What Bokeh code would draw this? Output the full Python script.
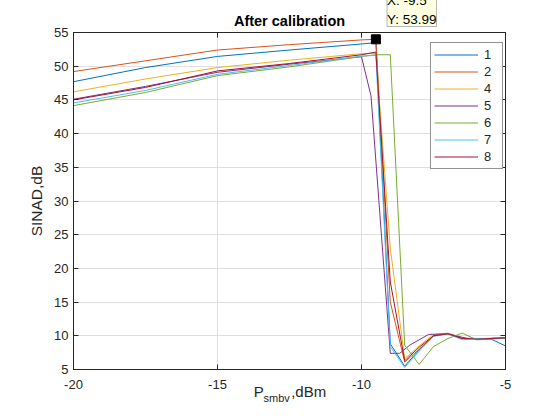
from bokeh.plotting import figure
from bokeh.models import (Range1d, LinearAxis, FixedTicker, Legend, LegendItem,
                          CustomJSTickFormatter, Title)
from bokeh.embed import file_html
from bokeh.resources import INLINE

# ---------------- data ----------------
x_common = [-20, -17.5, -15, -12.5, -10, -9.5, -9, -8.5, -8, -7.5, -7, -6.5, -6, -5.5, -5]
x_s5 = [-20, -17.5, -15, -12.5, -10, -9.67, -9.0, -8.67, -8.33, -7.67, -7.0, -6.33, -5.67, -5.0]

y_s1 = [47.7, 49.8, 51.45, 52.4, 53.3, 53.5, 8.8, 5.5, 7.9, 10.0, 10.3, 9.6, 9.6, 9.5, 8.5]
y_s2 = [49.2, 50.8, 52.4, 53.2, 53.9, 53.99, 15.0, 6.1, 8.0, 10.0, 10.3, 9.6, 9.6, 9.6, 9.7]
y_s4 = [46.2, 48.1, 49.8, 50.9, 51.85, 51.9, 23.0, 6.6, 8.5, 10.2, 10.4, 9.7, 9.6, 9.6, 9.7]
y_s5 = [45.1, 47.0, 49.1, 50.3, 51.4, 45.6, 7.4, 7.4, 8.6, 10.2, 10.3, 9.6, 9.6, 9.7]
y_s6 = [44.15, 46.1, 48.6, 49.9, 51.45, 51.7, 51.7, 8.6, 5.75, 8.4, 9.6, 10.4, 9.4, 9.5, 9.7]
y_s7 = [44.55, 46.4, 48.8, 50.1, 51.5, 51.6, 8.4, 5.3, 7.7, 9.9, 10.3, 9.4, 9.6, 9.6, 9.7]
y_s8 = [45.0, 46.85, 49.3, 50.4, 51.7, 52.1, 18.0, 6.3, 8.3, 10.0, 10.3, 9.6, 9.5, 9.6, 9.7]

series_names = ["1", "2", "4", "5", "6", "7", "8"]
series_x = [x_common, x_common, x_common, x_s5, x_common, x_common, x_common]
series_y = [y_s1, y_s2, y_s4, y_s5, y_s6, y_s7, y_s8]
series_colors = ["#0072BD", "#D95319", "#EDB120", "#7E2F8E", "#77AC30", "#4DBEEE", "#A2142F"]

x_ticks = [-20, -15, -10, -5]
x_tick_labels = ["-20", "-15", "-10", "-5"]
y_ticks = [5, 10, 15, 20, 25, 30, 35, 40, 45, 50, 55]
y_tick_labels = ["5", "10", "15", "20", "25", "30", "35", "40", "45", "50", "55"]

tip_x = -9.5
tip_y = 53.99

title_text = "After calibration"
y_label = "SINAD,dB"
x_label_main = "P"
x_label_sub = "smbv"
x_label_unit = ",dBm"

# ---------------- figure ----------------
FONT = "Liberation Sans"
DARK = "#262626"

p = figure(width=544, height=404, x_range=Range1d(-20, -5), y_range=Range1d(5, 55),
           output_backend="svg", toolbar_location=None,
           min_border_left=73, min_border_right=39, min_border_top=32, min_border_bottom=35)
p.background_fill_color = "white"
p.border_fill_color = "white"
p.outline_line_color = DARK

for ax in (p.xaxis[0], p.yaxis[0]):
    ax.axis_line_color = DARK
    ax.major_tick_line_color = DARK
    ax.major_tick_in = 5
    ax.major_tick_out = 0
    ax.minor_tick_line_color = None
    ax.major_label_text_font = FONT
    ax.major_label_text_font_size = "13px"
    ax.major_label_text_color = DARK

p.xaxis.ticker = FixedTicker(ticks=x_ticks)
p.xaxis.major_label_overrides = dict(zip(x_ticks, x_tick_labels))
p.xaxis.major_label_standoff = 10
p.yaxis.ticker = FixedTicker(ticks=y_ticks)
p.yaxis.major_label_overrides = dict(zip(y_ticks, y_tick_labels))
p.yaxis.major_label_standoff = 5
p.yaxis.axis_label = y_label
p.yaxis.axis_label_text_font = FONT
p.yaxis.axis_label_text_font_size = "15.5px"
p.yaxis.axis_label_text_font_style = "normal"
p.yaxis.axis_label_text_color = DARK
p.yaxis.axis_label_standoff = 6

p.xgrid.ticker = FixedTicker(ticks=x_ticks)
p.ygrid.ticker = FixedTicker(ticks=y_ticks)
p.xgrid.grid_line_color = "#dfdfdf"
p.ygrid.grid_line_color = "#dfdfdf"

empty = CustomJSTickFormatter(code="return ''")
top = LinearAxis(ticker=FixedTicker(ticks=x_ticks), formatter=empty,
                 axis_line_color=DARK, major_tick_line_color=DARK,
                 major_tick_in=5, major_tick_out=0, minor_tick_line_color=None,
                 major_label_standoff=0, major_label_text_font_size="1px")
right = LinearAxis(ticker=FixedTicker(ticks=y_ticks), formatter=empty,
                   axis_line_color=DARK, major_tick_line_color=DARK,
                   major_tick_in=5, major_tick_out=0, minor_tick_line_color=None,
                   major_label_standoff=0, major_label_text_font_size="1px")
p.add_layout(top, "above")
p.add_layout(right, "right")

items = []
for name, xs, ys, c in zip(series_names, series_x, series_y, series_colors):
    r = p.line(xs, ys, line_color=c, line_width=1)
    items.append(LegendItem(label=name, renderers=[r]))

p.scatter([tip_x], [tip_y], marker="square", size=9, color="black")

legend = Legend(items=items, location=(357, 200), padding=3, spacing=0, margin=0,
                glyph_height=17, glyph_width=44, label_height=17, label_width=15,
                label_standoff=6, border_line_color=DARK, border_line_width=1,
                label_text_font=FONT, label_text_font_size="13px", label_text_color=DARK,
                background_fill_color="white")
p.add_layout(legend)

# title (closest to the frame, in the top border)
main_title = Title(text=title_text, align="center", vertical_align="middle", standoff=5.8,
                   text_font=FONT, text_font_size="14.5px", text_font_style="bold",
                   text_color="black")
p.add_layout(main_title, "above")

# data tip (outermost, above the title row)
tip = Title(text=f"X: {tip_x}\nY: {tip_y}", align="left", vertical_align="bottom",
            offset=313.5, standoff=-36, text_font=FONT, text_font_size="13.5px",
            text_font_style="normal", text_color="black", text_line_height=1.25,
            background_fill_color="#FFFFE1", border_line_color="#B4B4B4")
p.add_layout(tip, "above")

# x axis label with subscript
lab_p = Title(text=x_label_main, align="left", vertical_align="middle", offset=180.3,
              standoff=-18.8, text_font=FONT, text_font_size="15px",
              text_font_style="normal", text_color=DARK)
lab_u = Title(text=x_label_unit, align="left", vertical_align="middle", offset=217.7,
              standoff=-18.8, text_font=FONT, text_font_size="15px",
              text_font_style="normal", text_color=DARK)
lab_s = Title(text=x_label_sub, align="left", vertical_align="middle", offset=190,
              standoff=-2.3, text_font=FONT, text_font_size="11px",
              text_font_style="normal", text_color=DARK)
p.add_layout(lab_p, "below")
p.add_layout(lab_u, "below")
p.add_layout(lab_s, "below")

open("out.html", "w").write(file_html(p, INLINE))
